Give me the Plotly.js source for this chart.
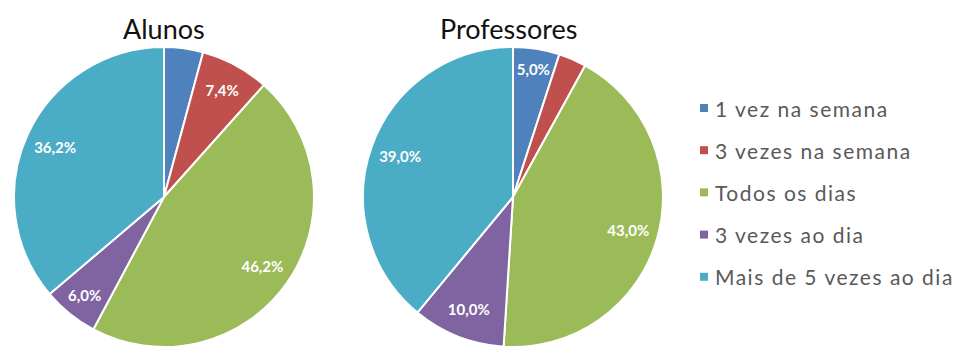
<!DOCTYPE html>
<html><head><meta charset="utf-8">
<script src="https://cdn.plot.ly/plotly-3.0.1.min.js"></script>
<style>html,body{margin:0;padding:0;background:#fff}</style>
</head><body>
<div id="chart" style="width:961px;height:349px"></div>
<script>
const categories = ["1 vez na semana", "3 vezes na semana", "Todos os dias", "3 vezes ao dia", "Mais de 5 vezes ao dia"];
const alunos = [4.2, 7.4, 46.2, 6.0, 36.2];
const professores = [5.0, 3.0, 43.0, 10.0, 39.0];
const colors = ["#4F81BD", "#C0504D", "#9BBB59", "#8064A2", "#4BACC6"];
const alunosShow = [false, true, true, true, true];
const profShow = [true, false, true, true, true];
const titles = ["Alunos", "Professores"];

const W = 961, H = 349;
function pie(values, dom) {
  return {
    type: "pie", values: values, labels: categories, sort: false, direction: "clockwise", rotation: 0,
    marker: {colors: colors, line: {color: "#ffffff", width: 2}},
    textinfo: "none", hoverinfo: "label+percent", showlegend: false, domain: dom
  };
}
function labelRing(values, show, dom) {
  return {
    type: "pie", values: values, labels: categories, sort: false, direction: "clockwise", rotation: 0,
    hole: 0.6,
    marker: {colors: categories.map(() => "rgba(0,0,0,0)"), line: {width: 0}},
    texttemplate: show.map(s => s ? "%{value:.1f}%" : ""),
    textposition: "inside", insidetextorientation: "horizontal",
    textfont: {family: "Lato, sans-serif", size: 15, color: "#ffffff", weight: "bold"},
    hoverinfo: "skip", showlegend: false, domain: dom
  };
}
const domA = {x: [14/W, 314/W], y: [2/H, 302/H]};
const domP = {x: [363/W, 663/W], y: [2/H, 302/H]};
const data = [
  pie(alunos, domA), labelRing(alunos, alunosShow, domA),
  pie(professores, domP), labelRing(professores, profShow, domP)
];
const annotations = [
  {text: titles[0], x: 164/W, y: 1 - 28/H},
  {text: titles[1], x: 508/W, y: 1 - 28/H}
].map(a => Object.assign(a, {xref: "paper", yref: "paper", showarrow: false, xanchor: "center", yanchor: "middle",
  font: {family: "Lato, sans-serif", size: 27, color: "#111"}}));
const shapes = [];
categories.forEach((c, i) => {
  const yc = 108 + i * 42.2;
  annotations.push({text: '<span style="letter-spacing:1.5px">' + c + '</span>', xref: "paper", yref: "paper",
    x: 713/W, y: 1 - yc/H, xanchor: "left", yanchor: "middle",
    showarrow: false, font: {family: "Lato, sans-serif", size: 21, color: "#595959"}});
  shapes.push({type: "rect", xref: "paper", yref: "paper", x0: 700/W, x1: 708/W, y0: 1 - (yc - 4)/H, y1: 1 - (yc + 4)/H,
    fillcolor: colors[i], line: {width: 0}});
});
const layout = {
  width: W, height: H, margin: {l: 0, r: 0, t: 0, b: 0}, paper_bgcolor: "#fff",
  separators: ",.", showlegend: false, annotations: annotations, shapes: shapes
};
Plotly.newPlot("chart", data, layout, {displayModeBar: false, staticPlot: true});
</script>
</body></html>
